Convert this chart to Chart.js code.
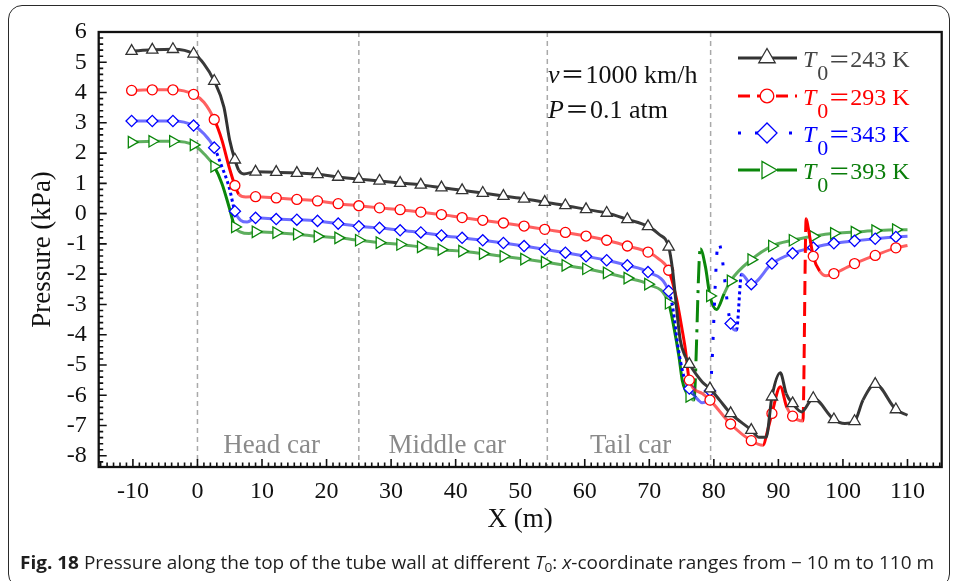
<!DOCTYPE html>
<html>
<head>
<meta charset="utf-8">
<script src="https://cdn.jsdelivr.net/npm/chart.js@4.4.1/dist/chart.umd.min.js"></script>
<style>
  html, body { margin: 0; background: #fff; }
  #wrap { position: relative; width: 956px; height: 581px; overflow: hidden; }
  #frame { position: absolute; left: 8px; top: 5px; width: 942px; height: 583px; border: 1.5px solid #2a2a2a; border-radius: 14px; box-sizing: border-box; }
  #chart { position: absolute; left: 0; top: 0; }
  #caption { position: absolute; left: 20px; top: 550px; font: 18px 'Open Sans', 'Liberation Sans', sans-serif; color: #1e1e1e; white-space: nowrap; transform-origin: 0 50%; }
  #caption sub { font-size: 0.72em; vertical-align: -0.25em; line-height: 0; }
</style>
</head>
<body>
<div id="wrap">
  <div id="frame"></div>
  <canvas id="chart" width="956" height="581"></canvas>
  <div id="caption"><b>Fig. 18</b> Pressure along the top of the tube wall at different <i>T</i><sub>0</sub>: <i>x</i>-coordinate ranges from − 10 m to 110 m</div>
</div>
<script>
// axis ticks
const X_TICKS = [-10, 0, 10, 20, 30, 40, 50, 60, 70, 80, 90, 100, 110];
const Y_TICKS = [-8, -7, -6, -5, -4, -3, -2, -1, 0, 1, 2, 3, 4, 5, 6];

// car boundaries along the tube and their names
const DIVIDERS = [0, 25, 54.2, 79.5];
const CAR_LABELS = ['Head car', 'Middle car', 'Tail car'];
const CAR_LABEL_X = [11.5, 38.7, 67.1];

// where the symbols sit on every curve
const MARKER_X = [-10.2, -7.0, -3.8, -0.6, 2.6, 5.8, 9.0, 12.2, 15.4, 18.6, 21.8, 25.0, 28.2, 31.4,
  34.6, 37.8, 41.0, 44.2, 47.4, 50.6, 53.8, 57.0, 60.2, 63.4, 66.6, 69.8, 73.0, 76.2, 79.4, 82.6,
  85.8, 89.0, 92.2, 95.4, 98.6, 101.8, 105.0, 108.2];

const SERIES_LABELS = ['243 K', '293 K', '343 K', '393 K'];

// [x (m), pressure (kPa)]
const T243 = [[-10.2, 5.37], [-7.0, 5.41], [-3.8, 5.43], [-0.6, 5.28], [1.0, 4.95], [2.6, 4.38], [4.1, 3.52],
  [5.0, 2.42], [5.8, 1.78], [6.4, 1.43], [7.2, 1.31], [9.0, 1.38], [12.2, 1.37], [15.4, 1.34], [18.6, 1.30],
  [21.8, 1.21], [25.0, 1.14], [28.2, 1.08], [31.4, 1.01], [34.6, 0.95], [37.8, 0.86], [41.0, 0.77],
  [44.2, 0.68], [47.4, 0.58], [50.6, 0.49], [53.8, 0.38], [57.0, 0.27], [60.2, 0.14], [63.4, 0.02],
  [66.6, -0.19], [69.8, -0.42], [71.5, -0.68], [73.0, -1.10], [73.6, -1.85], [74.1, -2.86], [74.8, -4.18],
  [75.6, -4.73], [76.2, -4.97], [78.2, -5.56], [79.4, -5.78], [80.9, -6.16], [82.6, -6.6], [85.8, -7.15],
  [87.0, -7.39], [88.1, -7.39], [89.0, -6.05], [90.3, -5.26], [91.2, -5.94], [92.2, -6.27], [93.6, -6.55],
  [95.4, -6.1], [98.6, -6.8], [100.3, -6.93], [101.8, -6.86], [103.1, -6.16], [105.0, -5.63], [108.2, -6.47],
  [110.0, -6.66]];

const T293 = [[-10.2, 4.07], [-7.0, 4.09], [-3.8, 4.09], [-0.6, 3.94], [1.0, 3.68], [2.6, 3.11], [3.8, 2.42],
  [4.9, 1.54], [5.8, 0.93], [6.4, 0.64], [7.5, 0.55], [9.0, 0.56], [12.2, 0.52], [15.4, 0.47], [18.6, 0.42],
  [21.8, 0.33], [25.0, 0.26], [28.2, 0.19], [31.4, 0.13], [34.6, 0.05], [37.8, -0.03], [41.0, -0.13],
  [44.2, -0.22], [47.4, -0.31], [50.6, -0.41], [53.8, -0.52], [57.0, -0.62], [60.2, -0.74], [63.4, -0.88],
  [66.6, -1.07], [69.8, -1.27], [71.5, -1.5], [73.0, -1.87], [74.2, -2.8], [75.1, -3.85], [75.6, -4.5],
  [76.2, -5.5], [78.2, -5.94], [79.4, -6.16], [82.6, -6.95], [85.8, -7.5], [87.6, -7.65], [88.4, -7.1],
  [89.0, -6.6], [90.3, -5.72], [91.3, -6.4], [92.2, -6.69], [93.8, -6.85], [94.3, -0.17], [94.6, -0.45],
  [95.4, -1.41], [96.4, -1.9], [97.4, -2.05], [98.6, -1.98], [101.8, -1.65], [105.0, -1.38], [108.2, -1.13],
  [110.0, -1.05]];

const T343 = [[-10.2, 3.06], [-7.0, 3.06], [-3.8, 3.06], [-0.6, 2.91], [1.0, 2.64], [2.6, 2.18], [3.8, 1.54],
  [4.9, 0.88], [5.8, 0.08], [6.7, -0.22], [7.7, -0.28], [9.0, -0.14], [12.2, -0.18], [15.4, -0.20],
  [18.6, -0.24], [21.8, -0.33], [25.0, -0.42], [28.2, -0.47], [31.4, -0.55], [34.6, -0.62], [37.8, -0.72],
  [41.0, -0.80], [44.2, -0.88], [47.4, -0.97], [50.6, -1.07], [53.8, -1.18], [57.0, -1.29], [60.2, -1.41],
  [63.4, -1.54], [66.6, -1.71], [69.8, -1.93], [73.0, -2.56], [73.7, -3.19], [74.3, -4.18], [74.8, -4.84],
  [75.6, -5.56], [76.2, -5.78], [77.6, -6.16], [78.2, -6.25], [79.4, -5.85], [80.7, -0.94], [82.6, -3.63],
  [83.5, -3.85], [84.3, -2.0], [85.8, -2.33], [89.0, -1.65], [92.2, -1.31], [95.4, -1.12], [98.6, -0.98],
  [101.8, -0.90], [105.0, -0.83], [108.2, -0.77], [110.0, -0.75]];

const T393 = [[-10.2, 2.36], [-7.0, 2.39], [-3.8, 2.39], [-0.6, 2.27], [1.0, 1.98], [2.6, 1.56], [3.8, 0.99],
  [4.9, 0.22], [5.8, -0.44], [6.7, -0.61], [8.0, -0.66], [9.0, -0.60], [12.2, -0.63], [15.4, -0.68],
  [18.6, -0.75], [21.8, -0.80], [25.0, -0.88], [28.2, -0.96], [31.4, -1.02], [34.6, -1.10], [37.8, -1.19],
  [41.0, -1.24], [44.2, -1.32], [47.4, -1.41], [50.6, -1.50], [53.8, -1.60], [57.0, -1.71], [60.2, -1.82],
  [63.4, -1.96], [66.6, -2.13], [69.8, -2.33], [73.0, -2.96], [73.8, -3.74], [74.6, -4.73], [75.1, -5.5],
  [75.7, -5.89], [76.2, -6.04], [76.9, -6.16], [77.9, -1.16], [78.7, -1.76], [79.4, -2.72], [80.4, -3.17],
  [81.6, -2.64], [82.6, -2.22], [85.8, -1.52], [89.0, -1.07], [92.2, -0.88], [95.4, -0.75], [98.6, -0.65],
  [101.8, -0.61], [105.0, -0.56], [108.2, -0.53], [110.0, -0.53]];

const SERIF = "'Liberation Serif', 'Times New Roman', 'Noto Sans CJK SC', serif";
const MARKERS = new Set(MARKER_X);

function segInfo(c) {
  const dx = c.p1.x - c.p0.x, dy = c.p1.y - c.p0.y;
  return { len: Math.hypot(dx, dy), slope: Math.abs(dy) / Math.max(Math.abs(dx), 0.01) };
}

const STYLES = [
  { data: T243, color: '#333333', soft: '#3a3a3a', text: '#454545', point: 'triangle', rot: 0, r: 6.5, lr: 9.5,
    dash: () => [], legendDash: [] },
  { data: T293, color: '#ff0000', soft: 'rgba(255,35,35,0.72)', text: '#ff0000', point: 'circle', rot: 0, r: 5, lr: 6.8,
    dash: s => (s.len > 100 ? [14, 7] : []), legendDash: [12, 7] },
  { data: T343, color: '#0000ff', soft: 'rgba(40,40,255,0.68)', text: '#0000ff', point: 'rectRot', rot: 0, r: 5.6, lr: 10,
    dash: s => (s.len > 60 ? [3, 14] : s.slope > 2 ? [3, 3] : []), legendDash: [3, 14] },
  { data: T393, color: '#0b870b', soft: 'rgba(25,140,25,0.7)', text: '#0a7d0a', point: 'triangle', rot: 90, r: 6.6, lr: 10,
    dash: s => (s.len > 100 ? [22, 7, 3, 7] : []), legendDash: [22, 7, 3, 7] }
];

const datasets = STYLES.map(st => ({
  data: st.data.map(([x, y]) => ({ x, y })),
  borderColor: st.soft,
  borderWidth: 3,
  cubicInterpolationMode: 'monotone',
  fill: false,
  pointStyle: st.point,
  pointRotation: st.rot,
  pointRadius: c => (MARKERS.has(c.raw.x) ? st.r : 0),
  pointHoverRadius: 0,
  pointBackgroundColor: '#ffffff',
  pointBorderColor: st.color,
  pointBorderWidth: 1.3,
  segment: {
    borderDash: c => st.dash(segInfo(c)),
    borderColor: c => {
      const s = segInfo(c);
      return (s.slope > 2 || s.len > 60) ? st.color : st.soft;
    }
  }
}));

// italic letter + text pieces drawn one after another
function drawPieces(ctx, x, y, pieces) {
  pieces.forEach(p => {
    ctx.font = p.font;
    ctx.fillText(p.t, x, y + (p.dy || 0));
    x += ctx.measureText(p.t).width + (p.gap || 0);
  });
}

const decorations = {
  id: 'decorations',
  beforeDatasetsDraw(chart) {
    const { ctx, chartArea: a, scales: { x } } = chart;
    ctx.save();
    ctx.strokeStyle = '#a9a9a9';
    ctx.lineWidth = 1.5;
    ctx.setLineDash([5, 4]);
    DIVIDERS.forEach(v => {
      const px = x.getPixelForValue(v);
      ctx.beginPath();
      ctx.moveTo(px, a.top);
      ctx.lineTo(px, a.bottom);
      ctx.stroke();
    });
    ctx.setLineDash([]);
    ctx.fillStyle = '#8a8a8a';
    ctx.font = '27px ' + SERIF;
    ctx.textAlign = 'center';
    ctx.textBaseline = 'alphabetic';
    CAR_LABELS.forEach((t, i) => ctx.fillText(t, x.getPixelForValue(CAR_LABEL_X[i]), 453));
    ctx.restore();
  },
  afterDatasetsDraw(chart) {
    const { ctx, chartArea: a, scales: { x, y } } = chart;
    ctx.save();
    ctx.strokeStyle = '#111';
    ctx.lineWidth = 1.6;
    ctx.beginPath();
    for (let v = Math.ceil(x.min); v <= x.max; v++) {
      const px = x.getPixelForValue(v);
      const len = v % 10 === 0 ? 8 : 4.5;
      ctx.moveTo(px, a.bottom);
      ctx.lineTo(px, a.bottom - len);
    }
    for (let i = Math.ceil(y.min * 5); i <= y.max * 5; i++) {
      const py = y.getPixelForValue(i / 5);
      const len = i % 5 === 0 ? 8 : 4.5;
      ctx.moveTo(a.left, py);
      ctx.lineTo(a.left + len, py);
    }
    ctx.stroke();
    ctx.lineWidth = 2.3;
    ctx.strokeRect(a.left, a.top, a.right - a.left, a.bottom - a.top);
    ctx.restore();
  },
  afterDraw(chart) {
    const { ctx } = chart;
    const H = Chart.helpers;
    ctx.save();
    ctx.textAlign = 'left';
    ctx.textBaseline = 'alphabetic';

    // legend
    const rowY = [58, 96, 133, 170];
    STYLES.forEach((st, i) => {
      const cy = rowY[i];
      ctx.strokeStyle = st.color;
      ctx.lineWidth = 3;
      ctx.setLineDash(st.legendDash);
      ctx.beginPath();
      ctx.moveTo(738, cy);
      ctx.lineTo(797, cy);
      ctx.stroke();
      ctx.setLineDash([]);
      ctx.fillStyle = '#fff';
      ctx.lineWidth = 1.3;
      H.drawPoint(ctx, { pointStyle: st.point, rotation: st.rot, radius: st.lr, borderWidth: 1.3 }, 767, cy);
      ctx.fillStyle = st.text;
      drawPieces(ctx, 803, cy + 8.5, [
        { t: 'T', font: 'italic 24px ' + SERIF, gap: 1 },
        { t: '0', font: '22px ' + SERIF, dy: 13 },
        { t: '＝', font: '22px ' + SERIF },
        { t: SERIES_LABELS[i], font: '24px ' + SERIF }
      ]);
    });

    // operating conditions
    ctx.fillStyle = '#111';
    drawPieces(ctx, 548, 83, [
      { t: 'v', font: 'italic 26px ' + SERIF, gap: 1 },
      { t: '＝', font: '24px ' + SERIF, gap: 1 },
      { t: '1000 km/h', font: '26px ' + SERIF }
    ]);
    drawPieces(ctx, 548, 118, [
      { t: 'P', font: 'italic 26px ' + SERIF, gap: 1 },
      { t: '＝', font: '24px ' + SERIF, gap: 1 },
      { t: '0.1 atm', font: '26px ' + SERIF }
    ]);
    ctx.restore();
  }
};

Chart.defaults.font.family = SERIF;
Chart.defaults.color = '#111';

new Chart(document.getElementById('chart'), {
  type: 'line',
  data: { datasets },
  options: {
    responsive: false,
    animation: false,
    events: [],
    layout: { padding: { top: 32, right: 14.3, bottom: 40, left: 0 } },
    plugins: { legend: { display: false }, tooltip: { enabled: false } },
    scales: {
      x: {
        type: 'linear',
        min: -15.3,
        max: 115.3,
        grid: { display: false, drawTicks: false },
        border: { display: false },
        afterBuildTicks: s => { s.ticks = X_TICKS.map(v => ({ value: v })); },
        afterFit: s => { s.height = 74; },
        ticks: { padding: 10, font: { size: 24 }, color: '#111', maxRotation: 0, autoSkip: false, callback: v => String(v) },
        title: { display: true, text: 'X (m)', font: { size: 27 }, color: '#111', padding: { top: 0, bottom: 5 } }
      },
      y: {
        min: -8.37,
        max: 6,
        grid: { display: false, drawTicks: false },
        border: { display: false },
        afterBuildTicks: s => { s.ticks = Y_TICKS.map(v => ({ value: v })); },
        afterFit: s => { s.width = 98.7; },
        ticks: { padding: 12, font: { size: 24 }, color: '#111', autoSkip: false, callback: v => String(v) },
        title: { display: true, text: 'Pressure (kPa)', font: { size: 27 }, color: '#111', padding: { top: 27, bottom: 0 } }
      }
    }
  },
  plugins: [decorations]
});

// stretch the caption line to the figure width
const cap = document.getElementById('caption');
const w = cap.getBoundingClientRect().width;
cap.style.transform = 'scaleX(' + (914 / w) + ')';
</script>
</body>
</html>
